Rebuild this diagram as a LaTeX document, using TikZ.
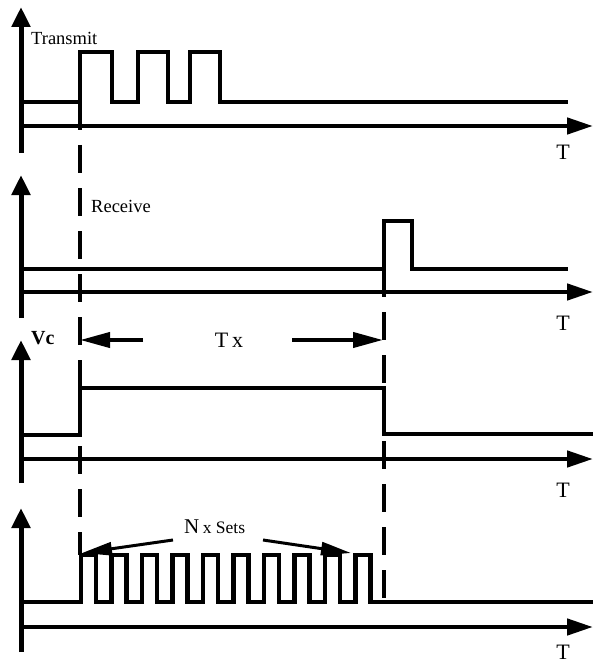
\documentclass[tikz,border=0pt]{standalone}
\usepackage{fontspec}
\setmainfont{Liberation Serif}
\usepackage{tikz}
\usetikzlibrary{arrows.meta}
\tikzset{
  >=latex,
  sig/.style={line width=4.3pt, line join=miter},
  taxis/.style={line width=4.5pt, -{Triangle[length=26pt,width=16pt]}},
  vaxis/.style={line width=5pt, -{Triangle[length=20pt,width=18pt]}},
  guide/.style={line width=4.3pt, dash pattern=on 28pt off 15pt},
  pointer/.style={line width=4pt, -{Triangle[length=30pt,width=15pt]}},
  thin pointer/.style={line width=3pt, -{Triangle[length=30pt,width=13pt]}},
  lbl/.style={inner sep=0pt, font=\fontsize{18.5}{20}\selectfont},
  tlbl/.style={inner sep=0pt, font=\fontsize{22}{24}\selectfont}
}

\begin{document}
\begin{tikzpicture}[x=1pt, y=-1pt]
\useasboundingbox (0,0) rectangle (593,663);

% -------- Transmit --------
\draw[vaxis] (21,153) -- (21,7);
\draw[taxis] (21,126) -- (593,126);
\draw[sig] (21,102) -- (80,102) -- (80,52) -- (112,52) -- (112,102) -- (138,102)
  -- (138,52) -- (168,52) -- (168,102) -- (190,102) -- (190,52) -- (220,52)
  -- (220,102) -- (568,102);
\node[lbl, anchor=west] (tr) at (31,38.5) {Transmit};
\node[tlbl] (t1) at (563,152) {T};

% -------- Receive --------
\draw[vaxis] (21,318) -- (21,175);
\draw[taxis] (21,292) -- (593,292);
\draw[sig] (21,269) -- (384,269) -- (384,221) -- (412,221) -- (412,269) -- (568,269);
\node[lbl, anchor=west] (rc) at (91,206.5) {Receive};
\node[tlbl] (t2) at (563,323) {T};

% -------- Vc --------
\draw[vaxis] (21,483) -- (21,340);
\draw[taxis] (21,459) -- (593,459);
\draw[sig] (21,435) -- (80,435) -- (80,388) -- (384,388) -- (384,434) -- (593,434);
\node[lbl, anchor=west, font=\fontsize{20}{22}\selectfont\bfseries] (vc) at (31,338.5) {Vc};
\node[tlbl] (t3) at (563,490) {T};

% Tx span
\node[tlbl] (tx) at (229,340) {T\,x};
\coordinate (txa) at (143,340);
\coordinate (txl) at (80,340);
\coordinate (txb) at (292,340);
\coordinate (txr) at (383,340);
\draw[pointer] (txa) -- (txl);
\draw[pointer] (txb) -- (txr);

% -------- N x Sets --------
\draw[vaxis] (21,652) -- (21,508);
\draw[taxis] (21,627) -- (593,627);
\draw[sig] (21,602)
  \foreach \k in {0,...,9}{ -- ({81+30.5*\k},602) -- ({81+30.5*\k},555)
    -- ({96+30.5*\k},555) -- ({96+30.5*\k},602) }
  -- (593,602);
\node[tlbl] (t4) at (563,652) {T};

\node[inner sep=0pt, anchor=west] (sets) at (184,526.5)
  {\fontsize{21}{22}\selectfont N\,\fontsize{17.5}{18}\selectfont x Sets};
\coordinate (nsa) at (173,540);
\coordinate (nsl) at (82,553);
\coordinate (nsb) at (263,540);
\coordinate (nsr) at (351,553);
\draw[thin pointer] (nsa) -- (nsl);
\draw[thin pointer] (nsb) -- (nsr);

% Dashed guides
\draw[guide] (80,102) -- (80,555);
\draw[guide] (384,269) -- (384,602);

\end{tikzpicture}
\end{document}
